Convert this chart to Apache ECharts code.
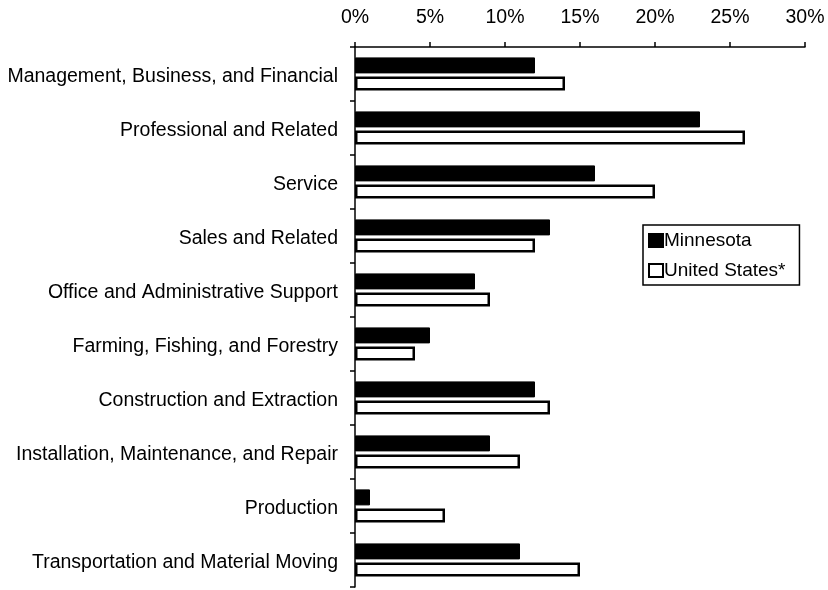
<!DOCTYPE html>
<html>
<head>
<meta charset="utf-8">
<script src="https://cdn.jsdelivr.net/npm/echarts@6/dist/echarts.min.js"></script>
<style>
  body { margin: 0; background: #fff; }
  #myChart { width: 828px; height: 590px; }
</style>
</head>
<body>
<div id="myChart"></div>
<script>
  var categories = [
    'Management, Business, and Financial',
    'Professional and Related',
    'Service',
    'Sales and Related',
    'Office and Administrative Support',
    'Farming, Fishing, and Forestry',
    'Construction and Extraction',
    'Installation, Maintenance, and Repair',
    'Production',
    'Transportation and Material Moving'
  ];
  var minnesota = [12, 23, 16, 13, 8, 5, 12, 9, 1, 11];
  var unitedStates = [14, 26, 20, 12, 9, 4, 13, 11, 6, 15];
  var seriesNames = ['Minnesota', 'United States*'];

  var myChart = echarts.init(document.getElementById('myChart'));
  var font = 'Liberation Sans, Arial, sans-serif';
  var option = {
    animation: false,
    textStyle: { fontFamily: font },
    legend: {
      orient: 'vertical',
      left: 643,
      top: 225,
      itemWidth: 14,
      itemHeight: 13,
      itemGap: 11,
      padding: [6, 14, 5, 5],
      borderColor: '#000',
      borderWidth: 1.5,
      icon: 'rect',
      textStyle: { color: '#000', fontSize: 19, fontFamily: font, padding: [0, 0, 0, -4] },
      data: seriesNames
    },
    grid: {
      left: 355,
      right: 23,
      top: 47,
      bottom: 3
    },
    xAxis: {
      type: 'value',
      position: 'top',
      min: 0,
      max: 30,
      interval: 5,
      axisLine: { show: true, lineStyle: { color: '#000', width: 1.5 } },
      axisTick: { show: true, inside: false, length: 5, lineStyle: { color: '#000', width: 1.5 } },
      axisLabel: {
        color: '#000',
        fontSize: 19.5,
        fontFamily: font,
        margin: 19,
        formatter: '{value}%'
      },
      splitLine: { show: false }
    },
    yAxis: {
      type: 'category',
      inverse: true,
      data: categories,
      axisLine: { show: true, lineStyle: { color: '#000', width: 1.5 } },
      axisTick: { show: true, length: 5, lineStyle: { color: '#000', width: 1.5 } },
      axisLabel: {
        margin: 17,
        formatter: function (v) { return '{c|' + v + '}'; },
        rich: {
          c: { color: '#000', fontSize: 19.5, fontFamily: font, padding: [6, 0, 0, 0] }
        }
      }
    },
    series: [
      {
        name: seriesNames[0],
        type: 'bar',
        data: minnesota,
        barWidth: 16,
        barGap: '20%',
        itemStyle: { color: '#000', borderColor: '#000', borderWidth: 1 }
      },
      {
        name: seriesNames[1],
        type: 'bar',
        data: unitedStates,
        barWidth: 14,
        itemStyle: { color: '#fff', borderColor: '#000', borderWidth: 2.5 }
      }
    ]
  };
  myChart.setOption(option, true);
</script>
</body>
</html>
